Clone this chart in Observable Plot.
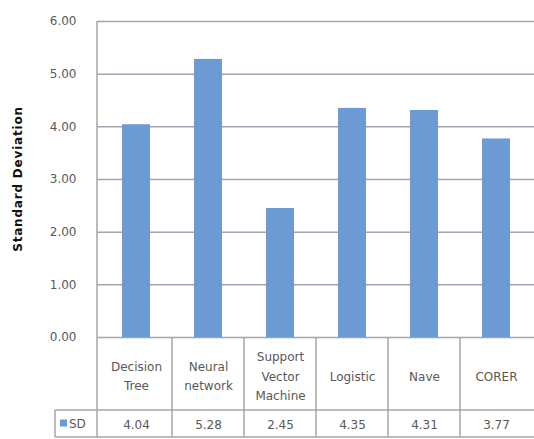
<!DOCTYPE html>
<html><head><meta charset="utf-8">
<script src="https://cdn.jsdelivr.net/npm/d3@7"></script>
<script src="https://cdn.jsdelivr.net/npm/@observablehq/plot@0.6"></script>
<style>
body{margin:0;background:#fff;}
#chart svg{display:block;}
</style></head><body><div id="chart"></div>
<script>
const categories = ["Decision Tree","Neural network","Support Vector Machine","Logistic","Nave","CORER"];
const headerLabels = ["Decision\nTree","Neural\nnetwork","Support\nVector\nMachine","Logistic","Nave","CORER"];
const sdValues = [4.04,5.28,2.45,4.35,4.31,3.77];
const yTicks = [0,1,2,3,4,5,6];
const seriesName = "SD";
const yTitle = "Standard Deviation";

const data = categories.map((c,i)=>({category:c, label:headerLabels[i], value:sdValues[i]}));
const font = "DejaVu Sans, sans-serif";
const gridColor = "#a3a3b3";
const lineColor = "#a6a6a6";
const textColor = "#595959";
const barColor = "#6b9bd2";

const plot = Plot.plot({
  width:534, height:439, marginLeft:97, marginRight:0, marginTop:21, marginBottom:102,
  style:{fontFamily:font, fontSize:"12px", color:textColor, background:"#fff"},
  x:{domain:categories, padding:0, axis:null},
  y:{domain:[0,6], axis:null},
  marks:[
    Plot.ruleY(yTicks, {stroke:gridColor, strokeWidth:1.5}),
    Plot.axisY(yTicks, {tickSize:0, tickPadding:21, tickFormat:d=>d.toFixed(2), fill:textColor, fontSize:12, label:null, style:{letterSpacing:"1px"}}),
    Plot.barY(data, {x:"category", y:"value", fill:barColor, insetLeft:22, insetRight:22}),
    Plot.text(data, {x:"category", text:"label", frameAnchor:"bottom", lineAnchor:"middle", dy:37, lineHeight:1.6, fill:textColor, fontSize:12, style:{letterSpacing:"0.4px"}}),
    Plot.text(data, {x:"category", text:d=>d.value.toFixed(2), frameAnchor:"bottom", lineAnchor:"middle", dy:88, fill:textColor, fontSize:12, style:{letterSpacing:"0.8px"}})
  ]
});

const svg = d3.select(plot);
const xs = plot.scale("x");
const ys = plot.scale("y");
const y0 = ys.apply(0);
const yTop = ys.apply(6);
const left = xs.range[0], right = xs.range[1];
const rowSplit = y0 + 73, tableBottom = y0 + 100;
const legendLeft = left - 42;
const g = svg.append("g").attr("stroke", lineColor).attr("stroke-width", 1.5);
// plot frame left
g.append("line").attr("x1", left).attr("x2", left).attr("y1", yTop).attr("y2", tableBottom);
// column separators
xs.domain.forEach((c,i)=>{
  if (i===0) return;
  const x = xs.apply(c);
  g.append("line").attr("x1", x).attr("x2", x).attr("y1", y0).attr("y2", tableBottom);
});
// row separators
g.append("line").attr("x1", legendLeft).attr("x2", right).attr("y1", rowSplit).attr("y2", rowSplit);
g.append("line").attr("x1", legendLeft).attr("x2", right).attr("y1", tableBottom).attr("y2", tableBottom);
g.append("line").attr("x1", legendLeft).attr("x2", legendLeft).attr("y1", rowSplit).attr("y2", tableBottom);
// legend key
const midRow = (rowSplit + tableBottom) / 2;
svg.append("rect").attr("x", legendLeft + 5).attr("y", midRow - 4).attr("width", 7).attr("height", 7).attr("fill", barColor);
svg.append("text").attr("x", legendLeft + 14).attr("y", midRow).attr("dy", "0.35em").attr("text-anchor", "start")
  .attr("font-family", font).attr("font-size", 12).attr("fill", textColor).text(seriesName);
// y title
svg.append("text").attr("transform", `translate(22,${(yTop + y0) / 2}) rotate(-90)`)
  .attr("text-anchor", "middle").attr("font-family", font).attr("font-size", 12)
  .attr("font-weight", "bold").attr("letter-spacing", "0.8px").attr("fill", "#111").text(yTitle);

document.getElementById("chart").appendChild(plot);
</script></body></html>
